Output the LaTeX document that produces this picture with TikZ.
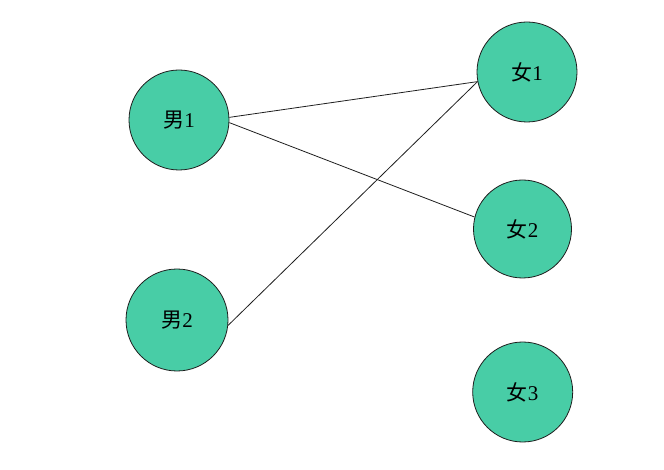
\documentclass[tikz,border=0pt]{standalone}
\usepackage{fontspec}
\setmainfont{Liberation Serif}
\newfontfamily\cjk{Noto Sans CJK SC}
\definecolor{nodefill}{RGB}{72,205,166}
\definecolor{edgecol}{RGB}{30,30,30}
\tikzset{
  person/.style={circle, draw=edgecol, line width=0.8pt, fill=nodefill, minimum size=100pt, inner sep=0pt, font=\fontsize{21}{21}\selectfont},
  link/.style={draw=edgecol, line width=0.8pt}
}
\begin{document}
\begin{tikzpicture}[x=1pt,y=-1pt]
\useasboundingbox (0,0) rectangle (664,470);
\node[person] (m1) at (179,120) {{\cjk 男}1};
\node[person, minimum size=102pt] (m2) at (177,320) {{\cjk 男}2};
\node[person] (f1) at (527,72) {{\cjk 女}1};
\node[person, minimum size=98pt] (f2) at (522.5,229) {{\cjk 女}2};
\node[person] (f3) at (522.7,392) {{\cjk 女}3};
\draw[link] (m1.3) -- (f1.191);
\draw[link] (m1.-3) -- (f2.166);
\draw[link] (m2.-6) -- (f1.191);
\end{tikzpicture}
\end{document}
